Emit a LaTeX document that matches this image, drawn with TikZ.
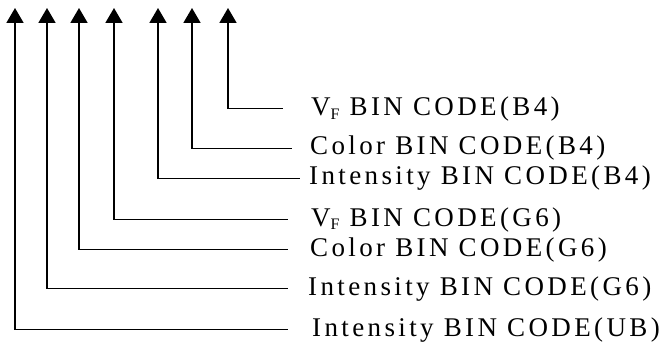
\documentclass[tikz,border=0pt]{standalone}
\usepackage{fontspec}
\setmainfont{Liberation Serif}[LetterSpace=12.5]
\usetikzlibrary{arrows.meta,positioning}

\newcommand{\vsubf}{V\raisebox{-0.25ex}{\fontsize{16}{16}\selectfont F}}

\begin{document}
\begin{tikzpicture}[
    x=1pt, y=-1pt,
    font=\fontsize{27}{27}\selectfont,
    stem/.style={
		line width=1.8pt,
		{Triangle[width=17pt,length=15pt]}-
	},
	binlabel/.style={
		anchor=base west,
		inner sep=0pt
	}
  ]
    \useasboundingbox (0,0) rectangle (664,342);

    % arrow tips along the top
    \coordinate (t1) at (15,8);
    \coordinate (t2) at (47,8);
    \coordinate (t3) at (79,8);
    \coordinate (t4) at (114,8);
    \coordinate (t5) at (158,8);
    \coordinate (t6) at (192,8);
    \coordinate (t7) at (228,8);

    % the labels
    \node [binlabel] (l7) at (311,116) {\vsubf\ BIN CODE(B4)};
    \node [binlabel] (l6) at (310,155) {Color BIN CODE(B4)};
    \node [binlabel] (l5) at (309,185) {Intensity BIN CODE(B4)};
    \node [binlabel] (l4) at (311,226) {\vsubf\ BIN CODE(G6)};
    \node [binlabel] (l3) at (310,256) {Color BIN CODE(G6)};
    \node [binlabel] (l2) at (308,295) {Intensity BIN CODE(G6)};
    \node [binlabel] (l1) at (312,336) {Intensity BIN CODE(UB)};

    % stems
    \draw [stem] (t7) |- ([xshift=-28pt,yshift=1pt]l7.west);
    \draw [stem] (t6) |- ([xshift=-18pt]l6.west);
    \draw [stem] (t5) |- ([xshift=-9pt]l5.west);
    \draw [stem] (t4) |- ([xshift=-23pt]l4.west);
    \draw [stem] (t3) |- ([xshift=-22pt]l3.west);
    \draw [stem] (t2) |- ([xshift=-20pt]l2.west);
    \draw [stem] (t1) |- ([xshift=-24pt]l1.west);

\end{tikzpicture}
\end{document}
